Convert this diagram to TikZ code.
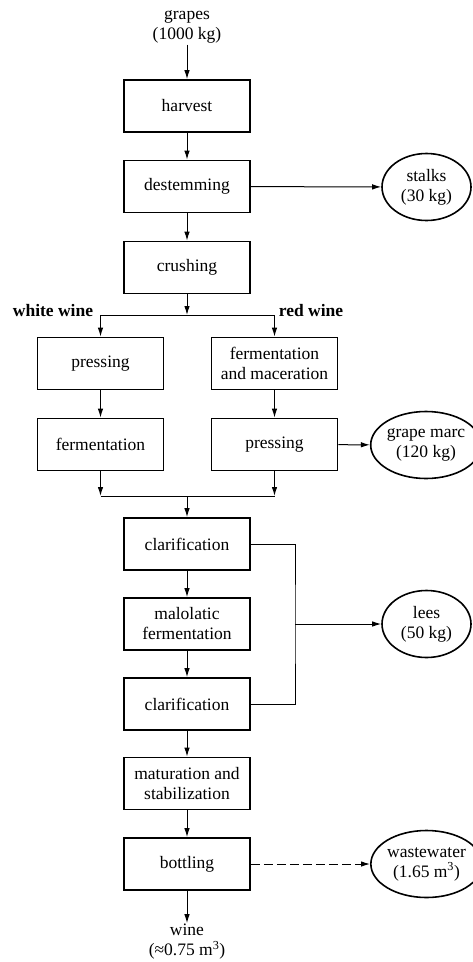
\documentclass[tikz,border=0pt]{standalone}
\usepackage{fontspec}
\setmainfont{Liberation Serif}
\usetikzlibrary{arrows.meta,shapes.geometric}
\begin{document}
\begin{tikzpicture}[x=1pt,y=-1pt,
  font=\fontsize{17.5}{20}\selectfont,
  >={Latex[length=9pt,width=5.5pt]},
  conn/.style={line width=1pt},
  stepbox/.style={draw,line width=1.8pt,minimum width=126pt,minimum height=52pt,
    inner sep=1pt,align=center},
  waste/.style={draw,ellipse,line width=1.6pt,minimum width=89pt,minimum height=67pt,
    inner sep=0pt,align=center},
  label/.style={align=center,inner sep=1pt},
  branch/.style={font=\fontsize{17.5}{20}\selectfont\bfseries,inner sep=0pt}]
\useasboundingbox (0,0) rectangle (472,962);

% main sequence
\node[label] (grapes) at (187,27) {grapes\\(1000 kg)};
\node[stepbox] (harvest) at (187,106) {harvest};
\node[stepbox] (destem) at (187,186.5) {destemming};
\node[stepbox] (crush) at (187,267.5) {crushing};

% two branches
\node[stepbox] (lpress) at (100.5,363.5) {pressing};
\node[stepbox] (rferm) at (274.5,363.5) {fermentation\\and maceration};
\node[stepbox] (lferm) at (100.5,444.5) {fermentation};
\node[stepbox] (rpress) at (274.5,444.5) {pressing};
\node[branch] (white) at (53,311) {white wine};
\node[branch] (red) at (311,311) {red wine};

\node[stepbox] (clar1) at (187,544) {clarification};
\node[stepbox] (malo) at (187,624) {malolatic\\fermentation};
\node[stepbox] (clar2) at (187,704) {clarification};
\node[stepbox] (matur) at (187,783.5) {maturation and\\stabilization};
\node[stepbox] (bottle) at (187,864) {bottling};
\node[label] (wine) at (187,942) {wine\\(≈0.75 m\textsuperscript{3})};

% by-products
\node[waste] (stalks) at (426.5,187) {stalks\\(30 kg)};
\node[waste] (marc) at (426,445) {grape marc\\(120 kg)};
\node[waste] (lees) at (426.5,624) {lees\\(50 kg)};
\node[waste] (water) at (426.5,864) {wastewater\\(1.65 m\textsuperscript{3})};

% junction points
\coordinate (split) at (187,315);
\coordinate (splitL) at (100.5,315);
\coordinate (splitR) at (274.5,315);
\coordinate (mergeL) at (100.5,496);
\coordinate (mergeR) at (274.5,496);
\coordinate (merge) at (187,496);
\coordinate (leesj) at (295,624);

% connectors
\draw[conn,->] (grapes) -- (harvest);
\draw[conn,->] (harvest) -- (destem);
\draw[conn,->] (destem) -- (crush);
\draw[conn,->] (destem) -- (stalks);
\draw[conn,->] (crush) -- (split);
\draw[conn] (splitL) -- (splitR);
\draw[conn,->] (splitL) -- (lpress);
\draw[conn,->] (splitR) -- (rferm);
\draw[conn,->] (lpress) -- (lferm);
\draw[conn,->] (rferm) -- (rpress);
\draw[conn,->] (rpress) -- (marc);
\draw[conn,->] (lferm) -- (mergeL);
\draw[conn,->] (rpress) -- (mergeR);
\draw[conn] (mergeL) -- (mergeR);
\draw[conn,->] (merge) -- (clar1);
\draw[conn,->] (clar1) -- (malo);
\draw[conn,->] (malo) -- (clar2);
\draw[conn] (clar1.east) -| (leesj) |- (clar2.east);
\draw[conn,->] (leesj) -- (lees);
\draw[conn,->] (clar2) -- (matur);
\draw[conn,->] (matur) -- (bottle);
\draw[conn,->,dashed,dash pattern=on 9pt off 4pt] (bottle) -- (water);
\draw[conn,->] (bottle) -- (wine);
\end{tikzpicture}
\end{document}
